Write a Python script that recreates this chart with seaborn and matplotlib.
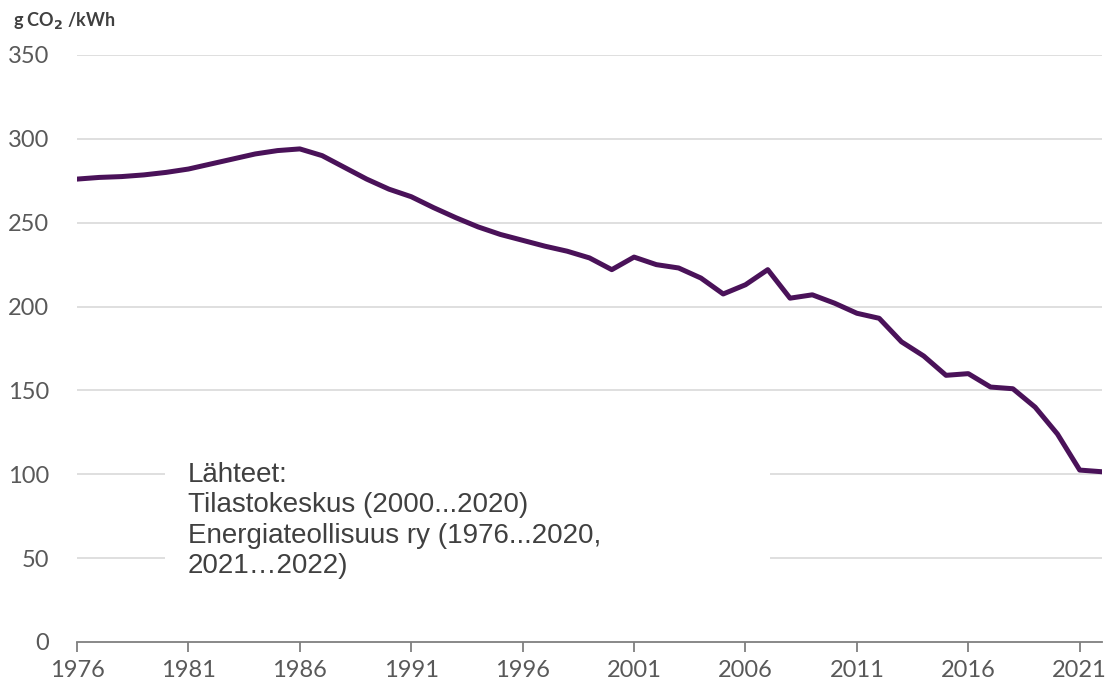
"""Sähköntuotannon CO2-päästökerroin Suomessa 1976-2022."""

import matplotlib
import matplotlib.pyplot as plt
import numpy as np
import pandas as pd
import seaborn as sns
from matplotlib.patches import Rectangle

matplotlib.use("Agg")

# ------------------------------------------------------------
# Data (luettu kuvasta)
# ------------------------------------------------------------
years = list(range(1976, 2023))
emissions = [
    276, 277, 277.5, 278.5, 280, 282, 285, 288, 291, 293,   # 1976-1985
    294, 290, 283, 276, 270, 265.5, 259, 253, 247.5, 243,   # 1986-1995
    239.5, 236, 233, 229, 222, 229.5, 225, 223, 217, 207.5, # 1996-2005
    213, 222, 205, 207, 202, 196, 193, 179, 170.5, 159,     # 2006-2015
    160, 152, 151, 140, 124, 102.5, 101.5,                  # 2016-2022
]
x_ticks = list(range(1976, 2022, 5))
y_ticks = [0, 50, 100, 150, 200, 250, 300, 350]
unit_label = r"g CO$_\mathbf{2}$ /kWh"
source_text = (
    "Lähteet:\n"
    "Tilastokeskus (2000...2020)\n"
    "Energiateollisuus ry (1976...2020,\n"
    "2021…2022)"
)

line_color = "#4a1259"
text_color = "#595959"
grid_color = "#d9d9d9"
axis_color = "#7f7f7f"

df = pd.DataFrame({"vuosi": years, "co2": emissions})

sns.set_theme(style="white")
plt.rcParams["font.family"] = ["Lato", "DejaVu Sans"]

fig = plt.figure(figsize=(11.11, 6.90), dpi=100)
ax = fig.add_axes([0.0693, 0.0696, 0.9226, 0.8507])

sns.lineplot(data=df, x="vuosi", y="co2", ax=ax, color=line_color,
             linewidth=3.6, solid_joinstyle="round", solid_capstyle="round",
             zorder=3)

ax.set_xlim(1976, 2022)
ax.set_ylim(0, 350)
ax.set_xticks(x_ticks)
ax.set_yticks(y_ticks)
ax.set_xlabel("")
ax.set_ylabel("")

# vaakasuorat apuviivat (ei nollalla)
for v in y_ticks[1:]:
    ax.axhline(v, color=grid_color, linewidth=1.2, zorder=0)

for side in ["left", "right", "top"]:
    ax.spines[side].set_visible(False)
ax.spines["bottom"].set_color(axis_color)
ax.spines["bottom"].set_linewidth(1.3)
ax.spines["bottom"].set_zorder(4)

ax.tick_params(axis="x", direction="out", length=7, width=1.3,
               color=axis_color, labelsize=17, labelcolor=text_color, pad=6,
               bottom=True)
ax.tick_params(axis="y", length=0, labelsize=17, labelcolor=text_color,
               pad=20)

# lähdeteksti valkoisen laatikon päällä
ax.add_patch(Rectangle((0.0859, 0.07), 0.59, 0.26, transform=ax.transAxes,
                       facecolor="white", edgecolor="none", zorder=1))
ax.text(0.108, 0.307, source_text, transform=ax.transAxes,
        fontsize=20, family=["Liberation Sans", "DejaVu Sans"],
        color="#404040", va="top", ha="left", linespacing=1.22, zorder=2)

fig.text(0.012, 0.962, unit_label, fontsize=13, fontweight="bold",
         color="#404040", ha="left", va="baseline")

fig.savefig("out.png", dpi=100)
plt.close(fig)
